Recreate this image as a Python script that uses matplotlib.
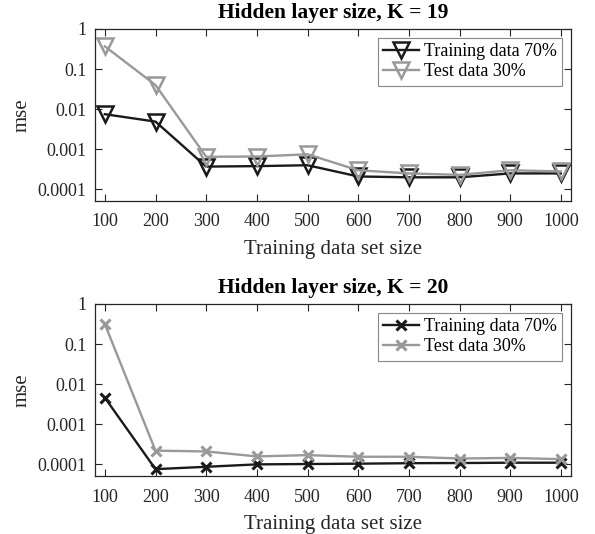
import matplotlib
matplotlib.use("Agg")
import matplotlib.pyplot as plt
from matplotlib.ticker import LogLocator, FixedLocator

sizes = [100, 200, 300, 400, 500, 600, 700, 800, 900, 1000]

train_k19 = [0.0075, 0.0049, 0.00037, 0.00038, 0.0004, 0.00021, 0.0002, 0.0002, 0.00025, 0.00025]
test_k19 = [0.37, 0.04, 0.00065, 0.00066, 0.00075, 0.0003, 0.00025, 0.00023, 0.0003, 0.00028]

train_k20 = [0.0046, 0.000076, 0.000087, 0.0001, 0.000102, 0.000104, 0.000107, 0.000108, 0.00011, 0.00011]
test_k20 = [0.316, 0.00022, 0.00021, 0.000158, 0.00017, 0.000155, 0.000155, 0.00014, 0.000145, 0.000135]

ytick_vals = [1e-4, 1e-3, 1e-2, 1e-1, 1]
ytick_labels = ["0.0001", "0.001", "0.01", "0.1", "1"]

plt.rcParams["font.family"] = ["Liberation Serif", "DejaVu Serif"]

dark = "#1a1a1a"
gray = "#999999"
axc = "#262626"

fig = plt.figure(figsize=(5.95, 5.34), dpi=100)
W, H = 595.0, 534.0

panels = [
    ("Hidden layer size, K = 19", train_k19, test_k19, "v", 29, 201),
    ("Hidden layer size, K = 20", train_k20, test_k20, "x", 304, 476),
]

for title, tr, te, mk, top, bot in panels:
    ax = fig.add_axes([94.7 / W, 1 - bot / H, (571 - 94.7) / W, (bot - top) / H])
    if mk == "v":
        kw = dict(marker="v", markersize=11, markerfacecolor="none", markeredgewidth=1.8)
    else:
        kw = dict(marker="x", markersize=6.5, markeredgewidth=2.2)
    ax.plot(sizes, tr, color=dark, lw=1.7, label="Training data 70%", markeredgecolor=dark, **kw)
    ax.plot(sizes, te, color=gray, lw=1.7, label="Test data 30%", markeredgecolor=gray, **kw)
    ax.set_yscale("log")
    ax.set_xlim(80, 1020)
    ax.set_ylim(10 ** -4.29, 1)
    ax.set_xticks(sizes)
    ax.set_xticklabels([str(s) for s in sizes])
    ax.yaxis.set_major_locator(FixedLocator(ytick_vals))
    ax.set_yticklabels(ytick_labels)
    ax.yaxis.set_minor_locator(LogLocator(base=10, subs=range(2, 10)))
    ax.tick_params(which="both", direction="in", top=True, right=True,
                   colors=axc, labelsize=13, width=0.8)
    ax.tick_params(which="major", length=5)
    ax.tick_params(axis="y", which="major", pad=6)
    ax.tick_params(axis="x", which="major", pad=9)
    ax.tick_params(which="minor", length=2.5)
    ax.tick_params(axis="x", which="minor", bottom=False, top=False)
    for s in ax.spines.values():
        s.set_color(axc)
        s.set_linewidth(0.9)
    ax.set_title(title, fontsize=15.5, fontweight="bold", pad=8)
    ax.set_xlabel("Training data set size", fontsize=15, color=axc, labelpad=7)
    ax.set_ylabel("mse", fontsize=15, color=axc, labelpad=4)
    leg = ax.legend(loc="upper right", fontsize=13, fancybox=False, framealpha=1,
                    edgecolor="#888888", borderpad=0.3, handlelength=2.0,
                    handletextpad=0.25, labelspacing=0.15, borderaxespad=0.5)
    leg.get_frame().set_linewidth(0.8)

fig.savefig("out.png", dpi=100)
